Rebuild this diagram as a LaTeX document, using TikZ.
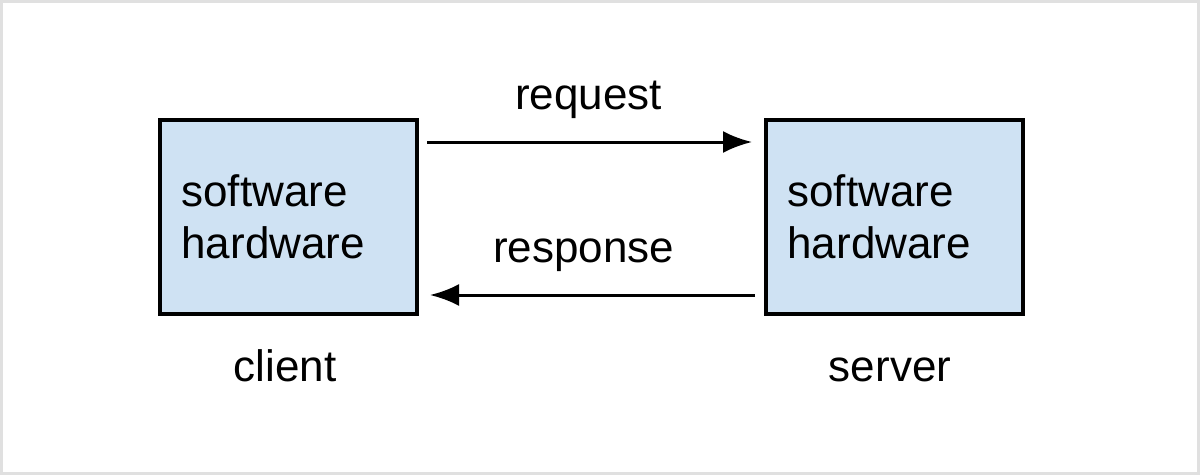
\documentclass[tikz,border=0pt]{standalone}
\usepackage{fontspec}
\setmainfont{Liberation Sans}
\usetikzlibrary{positioning,arrows.meta}
\definecolor{boxblue}{HTML}{CFE2F3}
\definecolor{framegray}{HTML}{E0E0E0}
\tikzset{every node/.append style={font=\fontsize{44}{52}\selectfont}}

\begin{document}
\begin{tikzpicture}[x=1pt,y=-1pt]
		\tikzstyle{machinebox} = [rectangle, minimum width=257pt, minimum height=194pt, text width=214pt, inner xsep=21pt, align=left, draw=black, line width=4pt, fill=boxblue];
		\tikzstyle{msgarrow} = [line width=3pt, -{Latex[length=29pt,width=22pt]}];
		\tikzstyle{desc} = [rectangle, inner sep=0pt];
		\draw[framegray, line width=3pt, fill=white] (1.5,1.5) rectangle (1198.5,473.5);
		\useasboundingbox (0,0) rectangle (1200,475);
		\node (client) [machinebox] at (288.5,217) {software\\hardware};
		\node (server) [machinebox] at (894.5,217) {software\\hardware};
		\node (clientd) [desc, anchor=base] at (285,381) {client};
		\node (serverd) [desc, anchor=base] at (890,381) {server};
		\draw[msgarrow, shorten <=8pt, shorten >=12pt] ([yshift=75pt]client.east) -- ([yshift=75pt]server.west) node (requestd) [desc, midway, above=22pt, xshift=-3pt] {request};
		\draw[msgarrow, shorten <=9pt, shorten >=11pt] ([yshift=-78pt]server.west) -- ([yshift=-78pt]client.east) node (responsed) [desc, midway, above=22pt, xshift=-8pt] {response};
	\end{tikzpicture}
\end{document}
